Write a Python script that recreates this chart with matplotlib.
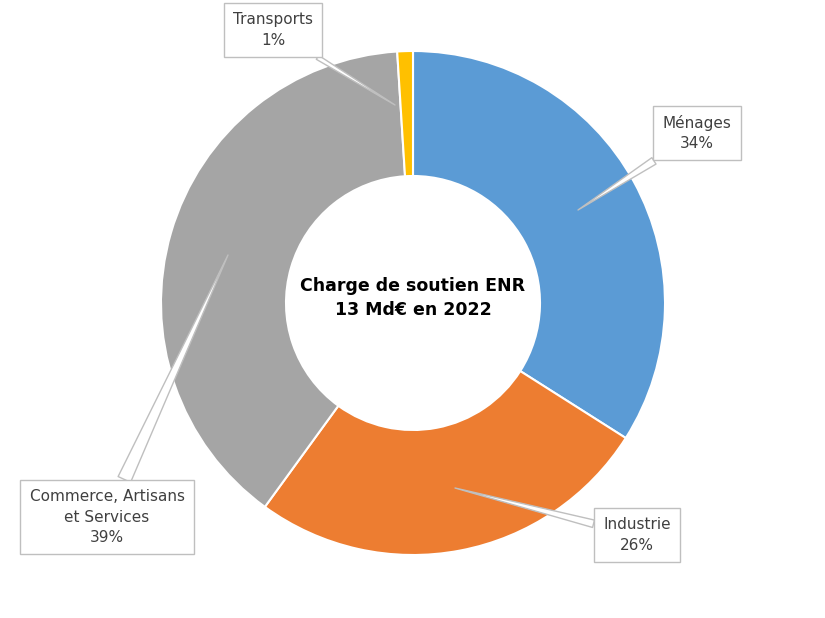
import matplotlib
matplotlib.use("Agg")
import matplotlib.pyplot as plt

categories = ["Ménages", "Industrie", "Commerce, Artisans\net Services", "Transports"]
values = [34, 26, 39, 1]
colors = ["#5B9BD5", "#ED7D31", "#A5A5A5", "#FFC000"]

W, H = 825, 618
fig = plt.figure(figsize=(W/100, H/100), dpi=100)
ax = fig.add_axes([0, 0, 1, 1])
ax.set_xlim(0, W); ax.set_ylim(0, H)
ax.axis("off")
cx, cy, R = 413, H - 303, 252
wedges, _ = ax.pie(values, colors=colors, startangle=90, counterclock=False,
                   center=(cx, cy), radius=R, frame=True,
                   wedgeprops=dict(width=R - 127, edgecolor="white", linewidth=1.5))
ax.set_xlim(0, W); ax.set_ylim(0, H); ax.axis("off")

ax.text(cx, cy + 5, "Charge de soutien ENR\n13 Md€ en 2022", ha="center", va="center",
        fontsize=12.5, fontweight="bold", linespacing=1.4, family="DejaVu Sans")

labels = [f"{c}\n{v}%" for c, v in zip(categories, values)]
box_pos = [(697, 133), (637, 535), (107, 517), (273, 30)]
tips = [(578, 210), (455, 488), (228, 255), (395, 105)]
tw = [0.5, 0.5, 0.9, 0.3]
for lab, (bx, by), (tx, ty), w in zip(labels, box_pos, tips, tw):
    ax.annotate(lab, xy=(tx, H - ty), xytext=(bx, H - by), ha="center", va="center",
                fontsize=11, color="#404040", linespacing=1.45,
                bbox=dict(boxstyle="square,pad=0.6", fc="white", ec="#BFBFBF", lw=1),
                arrowprops=dict(arrowstyle=f"wedge,tail_width={w}", fc="white",
                                ec="#BFBFBF", lw=1, shrinkA=0, shrinkB=0),
                zorder=5)

fig.savefig("out.png", dpi=100)
